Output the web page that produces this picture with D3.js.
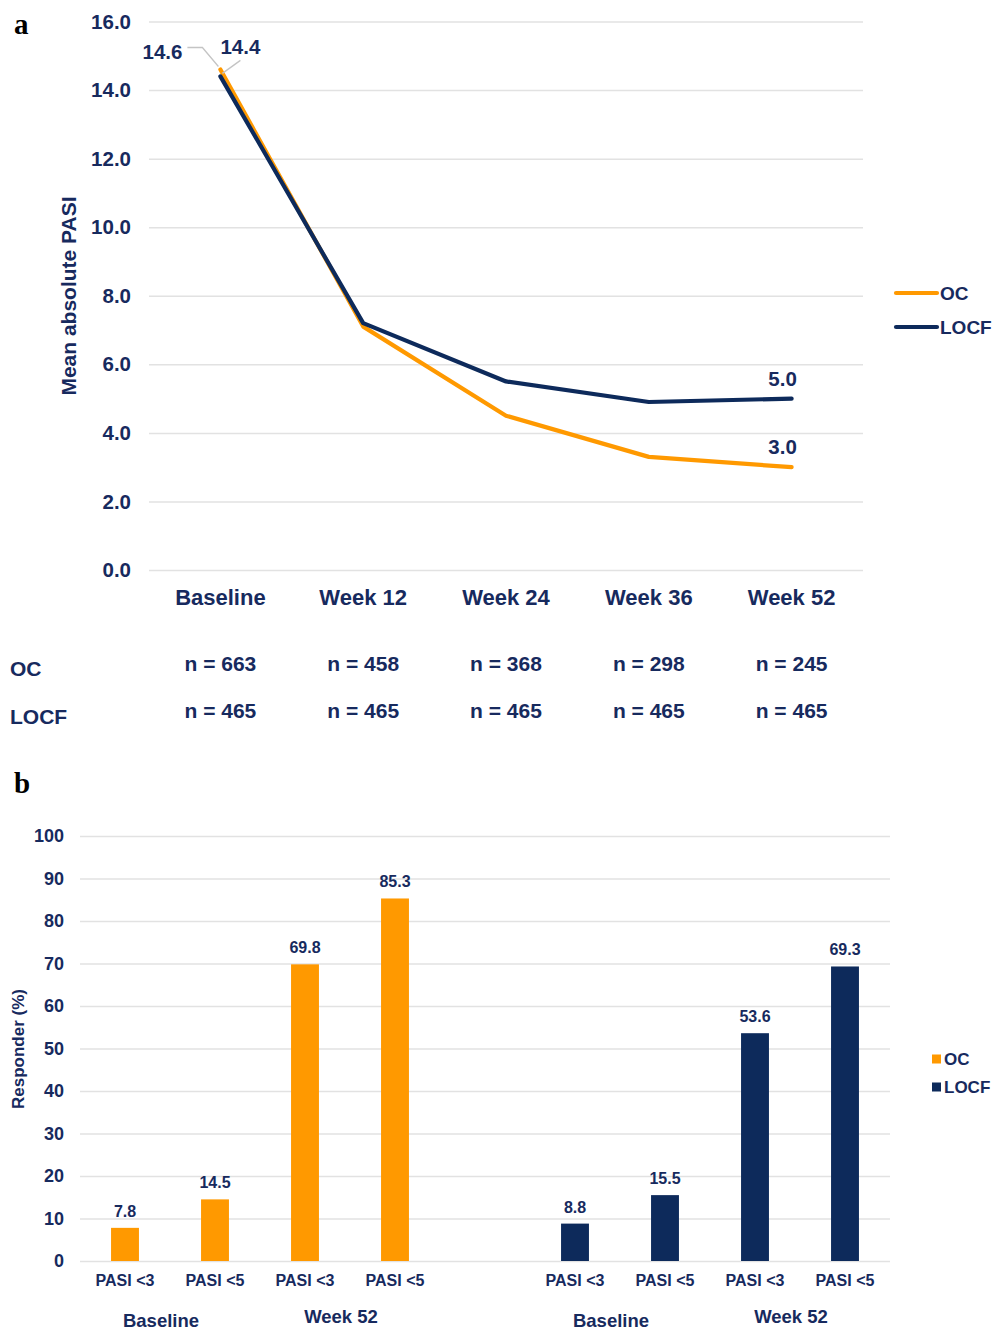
<!DOCTYPE html>
<html>
<head>
<meta charset="utf-8">
<script src="https://cdn.jsdelivr.net/npm/d3@7"></script>
<style>
  html, body { margin: 0; padding: 0; background: #ffffff; }
  svg { display: block; font-family: "Liberation Sans", Arial, sans-serif; font-weight: bold; }
</style>
</head>
<body>
<script>
// ---- Panel a: mean absolute PASI over time ----
const visits = ["Baseline", "Week 12", "Week 24", "Week 36", "Week 52"];
const ocMeanPasi = [14.6, 7.1, 4.5, 3.3, 3.0];
const locfMeanPasi = [14.4, 7.2, 5.5, 4.9, 5.0];
const ocN = [663, 458, 368, 298, 245];
const locfN = [465, 465, 465, 465, 465];
const pasiTicks = [0, 2, 4, 6, 8, 10, 12, 14, 16];

// ---- Panel b: PASI responders ----
const responderLabels = ["PASI <3", "PASI <5", "PASI <3", "PASI <5"];
const responderGroups = ["Baseline", "Week 52"];
const ocResponders = [7.8, 14.5, 69.8, 85.3];
const locfResponders = [8.8, 15.5, 53.6, 69.3];
const responderTicks = [0, 10, 20, 30, 40, 50, 60, 70, 80, 90, 100];

const ORANGE = "#FF9900";
const NAVY = "#0d2a5b";
const TEXT = "#172a5e";
const GRID = "#e2e2e2";

const svg = d3.select("body").append("svg")
  .attr("width", 993).attr("height", 1330);

// Panel letters
svg.append("text").attr("x", 14).attr("y", 34)
  .attr("font-family", "'Liberation Serif', 'Times New Roman', serif")
  .attr("font-size", 29).attr("fill", "#000").text("a");
svg.append("text").attr("x", 14).attr("y", 793)
  .attr("font-family", "'Liberation Serif', 'Times New Roman', serif")
  .attr("font-size", 29).attr("fill", "#000").text("b");

// ===================== Panel a =====================
const xA = d3.scaleBand().domain(visits).range([149, 863]);
const yA = d3.scaleLinear().domain([0, 16]).range([570, 21.5]);
const cx = v => xA(v) + xA.bandwidth() / 2;

const gA = svg.append("g");

// gridlines
gA.append("g")
  .call(d3.axisLeft(yA).tickValues(pasiTicks).tickSize(-(863 - 149)).tickFormat(""))
  .attr("transform", "translate(149,0)")
  .call(g => g.select(".domain").remove())
  .call(g => g.selectAll("line").attr("stroke", GRID).attr("stroke-width", 1.5));

// y tick labels
gA.append("g")
  .attr("transform", "translate(131,0)")
  .call(d3.axisLeft(yA).tickValues(pasiTicks).tickSize(0).tickPadding(0).tickFormat(d3.format(".1f")))
  .call(g => g.select(".domain").remove())
  .call(g => g.selectAll("text")
    .attr("fill", TEXT).attr("font-size", 20.5)
    .attr("font-family", "'Liberation Sans', Arial, sans-serif").attr("font-weight", "bold"));

// y axis title
gA.append("text")
  .attr("transform", "translate(76,296) rotate(-90)")
  .attr("text-anchor", "middle").attr("fill", TEXT).attr("font-size", 21)
  .text("Mean absolute PASI");

// category labels
gA.append("g")
  .attr("transform", "translate(0,605)")
  .call(d3.axisBottom(xA).tickSize(0).tickPadding(0))
  .call(g => g.select(".domain").remove())
  .call(g => g.selectAll("text")
    .attr("fill", TEXT).attr("font-size", 22).attr("dy", 0)
    .attr("font-family", "'Liberation Sans', Arial, sans-serif").attr("font-weight", "bold"));

// lines
const line = d3.line().x((d, i) => cx(visits[i])).y(d => yA(d));
gA.append("path").datum(ocMeanPasi).attr("d", line)
  .attr("fill", "none").attr("stroke", ORANGE).attr("stroke-width", 4.2)
  .attr("stroke-linejoin", "round").attr("stroke-linecap", "round");
gA.append("path").datum(locfMeanPasi).attr("d", line)
  .attr("fill", "none").attr("stroke", NAVY).attr("stroke-width", 4.2)
  .attr("stroke-linejoin", "round").attr("stroke-linecap", "round");

// baseline value labels with leader lines
const bx = cx(visits[0]);
const ocB = yA(ocMeanPasi[0]);
const locfB = yA(locfMeanPasi[0]);
gA.append("polyline")
  .attr("points", [[bx - 33, ocB - 22], [bx - 18, ocB - 22], [bx - 2, ocB - 3]].map(p => p.join(",")).join(" "))
  .attr("fill", "none").attr("stroke", "#c4c4c4").attr("stroke-width", 1.3);
gA.append("polyline")
  .attr("points", [[bx + 2, locfB - 3], [bx + 20, locfB - 16]].map(p => p.join(",")).join(" "))
  .attr("fill", "none").attr("stroke", "#c4c4c4").attr("stroke-width", 1.3);
gA.append("text").attr("x", bx - 38).attr("y", ocB - 10)
  .attr("text-anchor", "end").attr("fill", TEXT).attr("font-size", 20.5)
  .text(ocMeanPasi[0].toFixed(1));
gA.append("text").attr("x", bx).attr("y", locfB - 22)
  .attr("text-anchor", "start").attr("fill", TEXT).attr("font-size", 20.5)
  .text(locfMeanPasi[0].toFixed(1));

// end value labels
const last = visits.length - 1;
[ocMeanPasi, locfMeanPasi].forEach(series => {
  gA.append("text")
    .attr("x", cx(visits[last]) - 9).attr("y", yA(series[last]) - 13)
    .attr("text-anchor", "middle").attr("fill", TEXT).attr("font-size", 20.5)
    .text(series[last].toFixed(1));
});

// legend
const legA = [{ name: "OC", color: ORANGE, y: 293 }, { name: "LOCF", color: NAVY, y: 327 }];
legA.forEach(d => {
  gA.append("line").attr("x1", 896).attr("x2", 937).attr("y1", d.y).attr("y2", d.y)
    .attr("stroke", d.color).attr("stroke-width", 4.2).attr("stroke-linecap", "round");
  gA.append("text").attr("x", 940).attr("y", d.y + 7)
    .attr("fill", TEXT).attr("font-size", 19).text(d.name);
});

// sample size table
gA.append("text").attr("x", 10).attr("y", 676).attr("fill", TEXT).attr("font-size", 21).text("OC");
gA.append("text").attr("x", 10).attr("y", 724).attr("fill", TEXT).attr("font-size", 21).text("LOCF");
visits.forEach((v, i) => {
  gA.append("text").attr("x", cx(v)).attr("y", 671)
    .attr("text-anchor", "middle").attr("fill", TEXT).attr("font-size", 21)
    .text("n = " + ocN[i]);
  gA.append("text").attr("x", cx(v)).attr("y", 718)
    .attr("text-anchor", "middle").attr("fill", TEXT).attr("font-size", 21)
    .text("n = " + locfN[i]);
});

// ===================== Panel b =====================
// nine slots: four OC bars, an empty gap, four LOCF bars
const slots = d3.range(9);
const xB = d3.scaleBand().domain(slots).range([80, 890]).paddingInner(0.69).paddingOuter(0.345);
const yB = d3.scaleLinear().domain([0, 100]).range([1261, 836]);
const sx = i => xB(i) + xB.bandwidth() / 2;

const gB = svg.append("g");

gB.append("g")
  .attr("transform", "translate(80,0)")
  .call(d3.axisLeft(yB).tickValues(responderTicks).tickSize(-(890 - 80)).tickFormat(""))
  .call(g => g.select(".domain").remove())
  .call(g => g.selectAll("line").attr("stroke", GRID).attr("stroke-width", 1.5));

gB.append("g")
  .attr("transform", "translate(64,0)")
  .call(d3.axisLeft(yB).tickValues(responderTicks).tickSize(0).tickPadding(0))
  .call(g => g.select(".domain").remove())
  .call(g => g.selectAll("text")
    .attr("fill", TEXT).attr("font-size", 18)
    .attr("font-family", "'Liberation Sans', Arial, sans-serif").attr("font-weight", "bold"));

gB.append("text")
  .attr("transform", "translate(24,1049) rotate(-90)")
  .attr("text-anchor", "middle").attr("fill", TEXT).attr("font-size", 17)
  .text("Responder (%)");

const barSets = [
  { values: ocResponders, color: ORANGE, offset: 0 },
  { values: locfResponders, color: NAVY, offset: 5 }
];

barSets.forEach(set => {
  const idx = set.values.map((v, i) => i + set.offset);
  gB.selectAll(null).data(set.values).enter().append("rect")
    .attr("x", (d, i) => xB(idx[i]))
    .attr("y", d => yB(d))
    .attr("width", xB.bandwidth())
    .attr("height", d => yB(0) - yB(d))
    .attr("fill", set.color);
  gB.selectAll(null).data(set.values).enter().append("text")
    .attr("x", (d, i) => sx(idx[i]))
    .attr("y", d => yB(d) - 11)
    .attr("text-anchor", "middle").attr("fill", TEXT).attr("font-size", 16)
    .text(d => d.toFixed(1));
  responderLabels.forEach((lab, i) => {
    gB.append("text").attr("x", sx(idx[i])).attr("y", 1286)
      .attr("text-anchor", "middle").attr("fill", TEXT).attr("font-size", 16)
      .text(lab);
  });
  responderGroups.forEach((grp, k) => {
    const mid = (sx(idx[2 * k]) + sx(idx[2 * k + 1])) / 2 - 9;
    gB.append("text").attr("x", mid).attr("y", k === 0 ? 1327 : 1323)
      .attr("text-anchor", "middle").attr("fill", TEXT).attr("font-size", 18.5)
      .text(grp);
  });
});

// legend
const legB = [{ name: "OC", color: ORANGE, y: 1059 }, { name: "LOCF", color: NAVY, y: 1087 }];
legB.forEach(d => {
  gB.append("rect").attr("x", 932).attr("y", d.y - 4.5).attr("width", 9).attr("height", 9)
    .attr("fill", d.color);
  gB.append("text").attr("x", 944).attr("y", d.y + 6)
    .attr("fill", TEXT).attr("font-size", 17).text(d.name);
});
</script>
</body>
</html>
